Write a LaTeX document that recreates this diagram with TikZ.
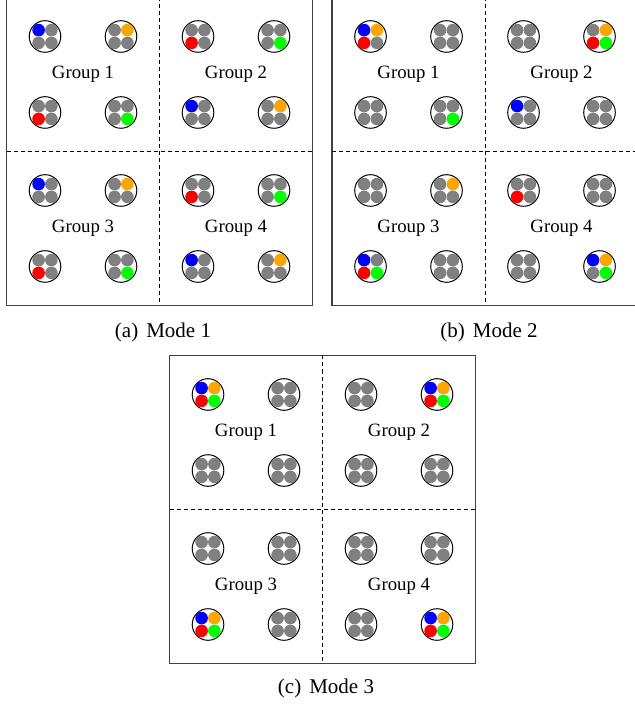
\documentclass[tikz,border=0pt]{standalone}
\usepackage{fontspec}
\setmainfont{Liberation Serif}
\definecolor{dg}{RGB}{128,128,128}
\definecolor{db}{RGB}{0,0,255}
\definecolor{do}{RGB}{255,165,0}
\definecolor{dr}{RGB}{255,0,0}
\definecolor{dn}{RGB}{0,255,0}
\newcommand\clu[6]{%
  \begin{scope}[shift={(#1,#2)}]
    \draw[ring] (0,0) circle (15.8);
    \fill[#3] (-6.4,-6.4) circle (6.3);
    \fill[#4] (6.4,-6.4) circle (6.3);
    \fill[#5] (-6.4,6.4) circle (6.3);
    \fill[#6] (6.4,6.4) circle (6.3);
  \end{scope}}
\newcommand\gry[2]{\clu{#1}{#2}{dg}{dg}{dg}{dg}}
\newcommand\panelbox[1]{%
  \draw[outer] (0,0) rectangle (306,308);
  \draw[dline] (153,0) -- (153,308);
  \draw[dline] (0,154) -- (306,154);
  \node[grp] (#1g1) at (76.5,77) {Group 1};
  \node[grp] (#1g2) at (229.5,77) {Group 2};
  \node[grp] (#1g3) at (76.5,231) {Group 3};
  \node[grp] (#1g4) at (229.5,231) {Group 4};}
\begin{document}
\begin{tikzpicture}[x=0.5pt,y=-0.5pt,
  ring/.style={draw=black,line width=0.5pt},
  outer/.style={draw=black!75,line width=0.6pt},
  dline/.style={draw=black,line width=0.5pt,dash pattern=on 2pt off 1.5pt},
  grp/.style={inner sep=0pt,font=\fontsize{9.4}{11}\selectfont},
  captext/.style={inner sep=0pt,font=\fontsize{10.5}{12}\selectfont}]
\useasboundingbox (0,0) rectangle (634,704);
% ---------- (a) Mode 1
\begin{scope}[shift={(6.5,-2.5)}]
  \panelbox{a}
  \clu{38.5}{39}{db}{dg}{dg}{dg}
  \clu{114.5}{39}{dg}{do}{dg}{dg}
  \clu{38.5}{115}{dg}{dg}{dr}{dg}
  \clu{114.5}{115}{dg}{dg}{dg}{dn}
  \clu{191.5}{39}{dg}{dg}{dr}{dg}
  \clu{267.5}{39}{dg}{dg}{dg}{dn}
  \clu{191.5}{115}{db}{dg}{dg}{dg}
  \clu{267.5}{115}{dg}{do}{dg}{dg}
  \clu{38.5}{193}{db}{dg}{dg}{dg}
  \clu{114.5}{193}{dg}{do}{dg}{dg}
  \clu{38.5}{269}{dg}{dg}{dr}{dg}
  \clu{114.5}{269}{dg}{dg}{dg}{dn}
  \clu{191.5}{193}{dg}{dg}{dr}{dg}
  \clu{267.5}{193}{dg}{dg}{dg}{dn}
  \clu{191.5}{269}{db}{dg}{dg}{dg}
  \clu{267.5}{269}{dg}{do}{dg}{dg}
\end{scope}
% ---------- (b) Mode 2
\begin{scope}[shift={(332,-2.5)}]
  \panelbox{b}
  \clu{38.5}{39}{db}{do}{dr}{dg}
  \gry{114.5}{39}
  \gry{38.5}{115}
  \clu{114.5}{115}{dg}{dg}{dg}{dn}
  \gry{191.5}{39}
  \clu{267.5}{39}{dg}{do}{dr}{dn}
  \clu{191.5}{115}{db}{dg}{dg}{dg}
  \gry{267.5}{115}
  \gry{38.5}{193}
  \clu{114.5}{193}{dg}{do}{dg}{dg}
  \clu{38.5}{269}{db}{dg}{dr}{dn}
  \gry{114.5}{269}
  \clu{191.5}{193}{dg}{dg}{dr}{dg}
  \gry{267.5}{193}
  \gry{191.5}{269}
  \clu{267.5}{269}{db}{do}{dg}{dn}
\end{scope}
% ---------- (c) Mode 3
\begin{scope}[shift={(169.5,355.5)}]
  \panelbox{c}
  \clu{38.5}{39}{db}{do}{dr}{dn}
  \gry{114.5}{39}
  \gry{38.5}{115}
  \gry{114.5}{115}
  \gry{191.5}{39}
  \clu{267.5}{39}{db}{do}{dr}{dn}
  \gry{191.5}{115}
  \gry{267.5}{115}
  \gry{38.5}{193}
  \gry{114.5}{193}
  \clu{38.5}{269}{db}{do}{dr}{dn}
  \gry{114.5}{269}
  \gry{191.5}{193}
  \gry{267.5}{193}
  \gry{191.5}{269}
  \clu{267.5}{269}{db}{do}{dr}{dn}
\end{scope}
\node[captext] (capa) at (163,332) {(a)\hspace{4pt}Mode 1};
\node[captext] (capb) at (489,332) {(b)\hspace{4pt}Mode 2};
\node[captext] (capc) at (326,688) {(c)\hspace{4pt}Mode 3};
\end{tikzpicture}
\end{document}
